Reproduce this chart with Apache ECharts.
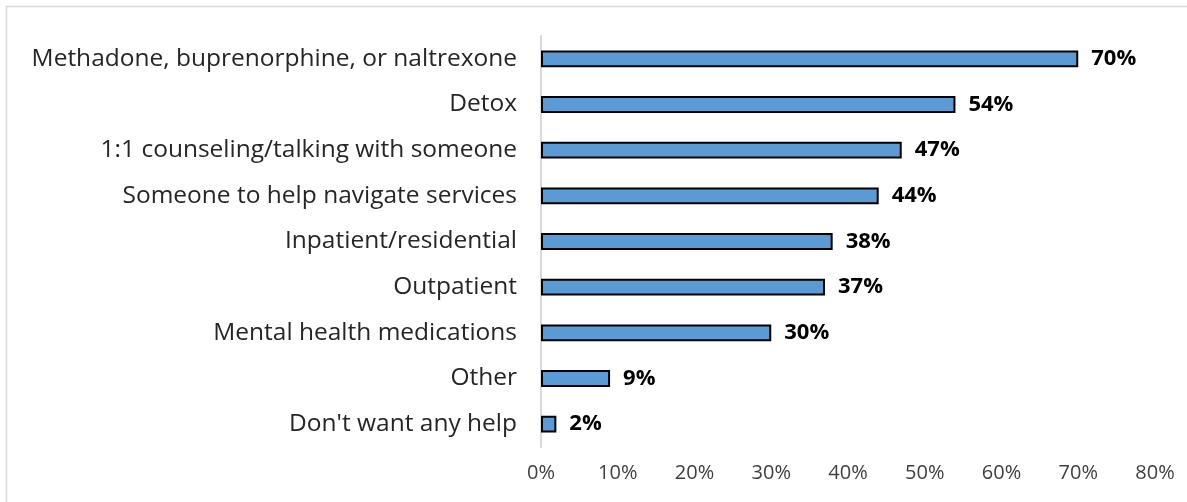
<!DOCTYPE html>
<html><head><meta charset="utf-8">
<script src="https://cdn.jsdelivr.net/npm/echarts@6/dist/echarts.min.js"></script>
<style>html,body{margin:0;padding:0;background:#fff}#c{width:1187px;height:502px}</style>
</head><body><div id="c"></div>
<script>
const categories = ["Methadone, buprenorphine, or naltrexone","Detox","1:1 counseling/talking with someone","Someone to help navigate services","Inpatient/residential","Outpatient","Mental health medications","Other","Don't want any help"];
const values = [70, 54, 47, 44, 38, 37, 30, 9, 2];
const xTicks = [0,10,20,30,40,50,60,70,80];

const chart = echarts.init(document.getElementById('c'), null, {renderer:'canvas'});
chart.setOption({
  animation:false,
  graphic:[{type:'rect', shape:{x:6.5,y:6.5,width:1300,height:700}, style:{fill:'none', stroke:'#d9d9d9', lineWidth:1.5}, silent:true}],
  grid:{left:541, right:32, top:36, bottom:55, containLabel:false},
  xAxis:{type:'value', min:xTicks[0], max:xTicks[xTicks.length-1], interval:10,
    axisLine:{show:false}, axisTick:{show:false}, splitLine:{show:false},
    axisLabel:{formatter:v=>v+'%', fontFamily:'Open Sans', fontSize:20, color:'#404040', margin:16}},
  yAxis:{type:'category', inverse:true, data:categories,
    axisLine:{show:true, lineStyle:{color:'#d9d9d9', width:2}}, axisTick:{show:false},
    axisLabel:{fontFamily:'Open Sans', fontSize:24.5, color:'#262626', margin:24}},
  series:[{type:'bar', data:values, barWidth:'37%',
    itemStyle:{color:'#5b9bd5', borderColor:'#000', borderWidth:2},
    label:{show:true, position:'right', distance:13, formatter:p=>p.value+'%', fontFamily:'Open Sans', fontWeight:'bold', fontSize:22, color:'#000'}}]
});
</script></body></html>
